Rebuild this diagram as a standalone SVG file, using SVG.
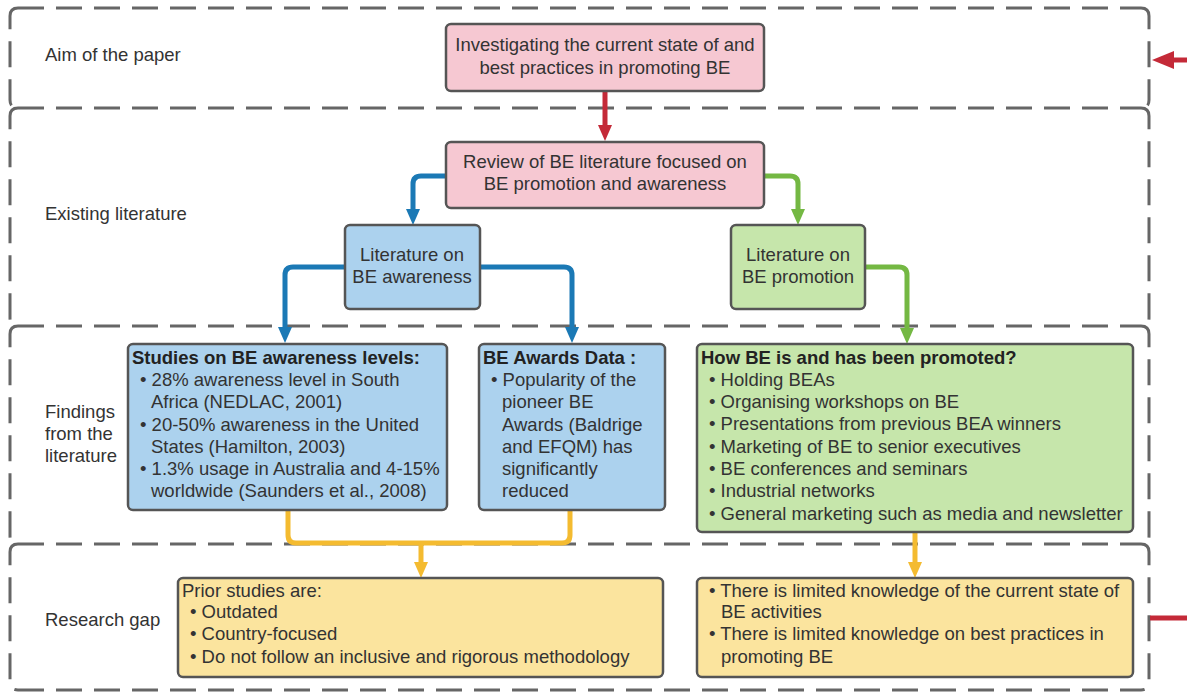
<svg xmlns="http://www.w3.org/2000/svg" width="1187" height="694" viewBox="0 0 1187 694">
  <style>
    text { font-family: "Liberation Sans", Arial, sans-serif; font-size: 18.5px; fill: #333; }
    .c { text-anchor: middle; }
    .b { font-weight: bold; fill: #222; }
    .lane { fill: none; stroke: #666; stroke-width: 3; stroke-dasharray: 26 12; }
    .box { stroke: #555; stroke-width: 2.5; }
    .pink { fill: #f6c8d2; }
    .blue { fill: #acd2ee; }
    .green { fill: #c6e6ab; }
    .yellow { fill: #fbe49e; }
    .ln { fill: none; stroke-width: 5; }
  </style>
  <defs>
    <marker id="ahRed" viewBox="0 0 16 14" markerWidth="16" markerHeight="14" refX="3" refY="7" orient="auto" markerUnits="userSpaceOnUse">
      <path d="M0,0 L16,7 L0,14 z" fill="#c42a38"/>
    </marker>
    <marker id="ahRedBig" viewBox="0 0 22 18" markerWidth="22" markerHeight="18" refX="3" refY="9" orient="auto" markerUnits="userSpaceOnUse">
      <path d="M0,0 L22,9 L0,18 z" fill="#c42a38"/>
    </marker>
    <marker id="ahBlue" viewBox="0 0 16 14" markerWidth="16" markerHeight="14" refX="3" refY="7" orient="auto" markerUnits="userSpaceOnUse">
      <path d="M0,0 L16,7 L0,14 z" fill="#1b79b5"/>
    </marker>
    <marker id="ahGreen" viewBox="0 0 16 14" markerWidth="16" markerHeight="14" refX="3" refY="7" orient="auto" markerUnits="userSpaceOnUse">
      <path d="M0,0 L16,7 L0,14 z" fill="#74b843"/>
    </marker>
    <marker id="ahYellow" viewBox="0 0 16 14" markerWidth="16" markerHeight="14" refX="3" refY="7" orient="auto" markerUnits="userSpaceOnUse">
      <path d="M0,0 L16,7 L0,14 z" fill="#f4bb30"/>
    </marker>
  </defs>

  <rect width="1187" height="694" fill="#ffffff"/>

  <!-- swim lanes: dashed dividers plus bracketed sides -->
  <g id="lanes">
    <path class="lane" d="M18,8 H1141"/>
    <path class="lane" d="M18,108 H1141"/>
    <path class="lane" d="M18,326 H1141"/>
    <path class="lane" d="M18,544 H1141"/>
    <path class="lane" d="M18,690 H1141"/>
    <path class="lane" d="M18,8 Q10,8 10,16 V100 Q10,108 18,108"/>
    <path class="lane" d="M18,108 Q10,108 10,116 V318 Q10,326 18,326"/>
    <path class="lane" d="M18,326 Q10,326 10,334 V536 Q10,544 18,544"/>
    <path class="lane" d="M18,544 Q10,544 10,552 V682 Q10,690 18,690"/>
    <path class="lane" d="M1141,8 Q1149,8 1149,16 V100 Q1149,108 1141,108"/>
    <path class="lane" d="M1141,108 Q1149,108 1149,116 V318 Q1149,326 1141,326"/>
    <path class="lane" d="M1141,326 Q1149,326 1149,334 V536 Q1149,544 1141,544"/>
    <path class="lane" d="M1141,544 Q1149,544 1149,552 V682 Q1149,690 1141,690"/>
    <text x="45" y="61">Aim of the paper</text>
    <text x="45" y="220">Existing literature</text>
    <text x="45" y="418">Findings</text>
    <text x="45" y="440">from the</text>
    <text x="45" y="462">literature</text>
    <text x="45" y="626">Research gap</text>
  </g>

  <!-- connectors -->
  <g id="connectors">
    <path class="ln" stroke="#c42a38" d="M605,91 V128" marker-end="url(#ahRed)"/>
    <path class="ln" stroke="#1b79b5" d="M446,176 H421 Q413,176 413,184 V212" marker-end="url(#ahBlue)"/>
    <path class="ln" stroke="#74b843" d="M764,176 H790 Q798,176 798,184 V212" marker-end="url(#ahGreen)"/>
    <path class="ln" stroke="#1b79b5" d="M345,267 H293 Q285,267 285,275 V330" marker-end="url(#ahBlue)"/>
    <path class="ln" stroke="#1b79b5" d="M480,267 H564 Q572,267 572,275 V330" marker-end="url(#ahBlue)"/>
    <path class="ln" stroke="#74b843" d="M865,267 H899 Q907,267 907,275 V331" marker-end="url(#ahGreen)"/>
    <path class="ln" stroke="#f4bb30" d="M288,510 V535 Q288,543 296,543 H562 Q570,543 570,535 V510"/>
    <path class="ln" stroke="#f4bb30" d="M421,543 V565" marker-end="url(#ahYellow)"/>
    <path class="ln" stroke="#f4bb30" d="M915,532 V565" marker-end="url(#ahYellow)"/>
    <path class="ln" stroke="#c42a38" d="M1150,618 H1187"/>
    <path class="ln" stroke="#c42a38" d="M1187,60 H1171" marker-end="url(#ahRedBig)"/>
  </g>

  <g id="aim">
    <rect class="box pink" x="446" y="24" width="318" height="67" rx="5"/>
    <text class="c" x="605" y="51">Investigating the current state of and</text>
    <text class="c" x="605" y="74">best practices in promoting BE</text>
  </g>

  <g id="review">
    <rect class="box pink" x="446" y="142" width="318" height="66" rx="5"/>
    <text class="c" x="605" y="168">Review of BE literature focused on</text>
    <text class="c" x="605" y="190">BE promotion and awareness</text>
  </g>

  <g id="lit-awareness">
    <rect class="box blue" x="345" y="225" width="135" height="84" rx="5"/>
    <text class="c" x="412" y="261">Literature on</text>
    <text class="c" x="412" y="283">BE awareness</text>
  </g>

  <g id="lit-promotion">
    <rect class="box green" x="731" y="225" width="134" height="84" rx="5"/>
    <text class="c" x="798" y="261">Literature on</text>
    <text class="c" x="798" y="283">BE promotion</text>
  </g>

  <g id="studies">
    <rect class="box blue" x="128" y="344" width="319" height="166" rx="5"/>
    <text class="b" x="132" y="364">Studies on BE awareness levels:</text>
    <text x="140" y="386">• 28% awareness level in South</text>
    <text x="151" y="408">Africa (NEDLAC, 2001)</text>
    <text x="140" y="431">• 20-50% awareness in the United</text>
    <text x="151" y="453">States (Hamilton, 2003)</text>
    <text x="140" y="475">• 1.3% usage in Australia and 4-15%</text>
    <text x="151" y="497">worldwide (Saunders et al., 2008)</text>
  </g>

  <g id="awards">
    <rect class="box blue" x="479" y="344" width="186" height="166" rx="5"/>
    <text class="b" x="483" y="364">BE Awards Data :</text>
    <text x="491" y="386">• Popularity of the</text>
    <text x="502" y="408">pioneer BE</text>
    <text x="502" y="431">Awards (Baldrige</text>
    <text x="502" y="453">and EFQM) has</text>
    <text x="502" y="475">significantly</text>
    <text x="502" y="497">reduced</text>
  </g>

  <g id="promoted">
    <rect class="box green" x="697" y="344" width="436" height="188" rx="5"/>
    <text class="b" x="701" y="364">How BE is and has been promoted?</text>
    <text x="709" y="386">• Holding BEAs</text>
    <text x="709" y="408">• Organising workshops on BE</text>
    <text x="709" y="430">• Presentations from previous BEA winners</text>
    <text x="709" y="453">• Marketing of BE to senior executives</text>
    <text x="709" y="475">• BE conferences and seminars</text>
    <text x="709" y="497">• Industrial networks</text>
    <text x="709" y="520">• General marketing such as media and newsletter</text>
  </g>

  <g id="prior-studies">
    <rect class="box yellow" x="178" y="578" width="485" height="99" rx="5"/>
    <text x="182" y="597">Prior studies are:</text>
    <text x="190" y="618">• Outdated</text>
    <text x="190" y="640">• Country-focused</text>
    <text x="190" y="663">• Do not follow an inclusive and rigorous methodology</text>
  </g>

  <g id="knowledge-gap">
    <rect class="box yellow" x="697" y="578" width="436" height="99" rx="5"/>
    <text x="709" y="597">• There is limited knowledge of the current state of</text>
    <text x="721" y="618">BE activities</text>
    <text x="709" y="640">• There is limited knowledge on best practices in</text>
    <text x="721" y="663">promoting BE</text>
  </g>
</svg>
